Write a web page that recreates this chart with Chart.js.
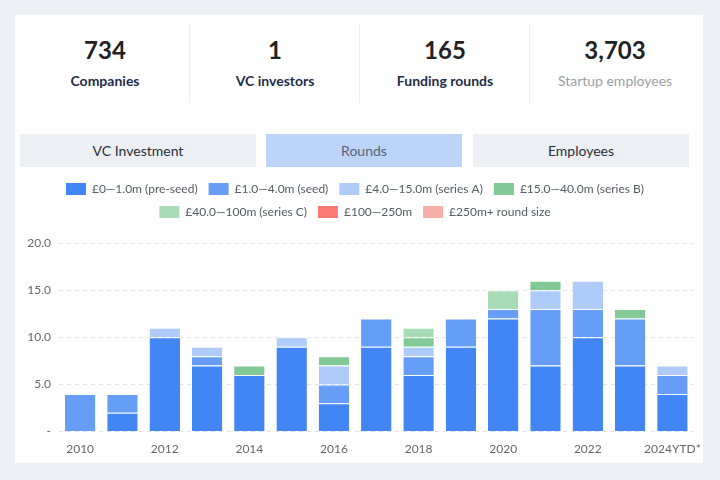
<!DOCTYPE html>
<html><head><meta charset="utf-8">
<script src="https://cdn.jsdelivr.net/npm/chart.js@4"></script>
<style>
html,body{margin:0;padding:0;background:#edf0f5;width:720px;height:480px;overflow:hidden;font-family:Lato,"Noto Sans",sans-serif;}
#card{position:absolute;left:15px;top:15px;width:688px;height:448px;background:#fff;}
.stat{position:absolute;top:8px;height:80px;width:170px;text-align:center;}
.stat .n{position:absolute;left:0;right:0;top:12px;font-size:24px;font-weight:700;color:#222;line-height:30px;}
.stat .l{position:absolute;left:0;right:0;top:48px;font-size:14px;font-weight:700;color:#1e2c4c;line-height:20px;}
.div{position:absolute;top:8px;width:1px;height:80px;background:#eceef1;}
.tab{position:absolute;top:119px;height:33px;background:#eceff4;color:#2a2f3a;font-size:14px;line-height:33px;text-align:center;}
.tab.on{background:#bcd4f8;color:#5a6272;}
#wrap{position:absolute;left:0;top:153px;width:688px;height:295px;}
</style></head><body>
<div id="card">
  <div class="stat" style="left:5px"><div class="n" id="s0"></div><div class="l" id="l0"></div></div>
  <div class="div" style="left:174px"></div>
  <div class="stat" style="left:175px"><div class="n" id="s1"></div><div class="l" id="l1"></div></div>
  <div class="div" style="left:344px"></div>
  <div class="stat" style="left:345px"><div class="n" id="s2"></div><div class="l" id="l2"></div></div>
  <div class="div" style="left:514px"></div>
  <div class="stat" style="left:515px"><div class="n" id="s3"></div><div class="l" id="l3" style="color:#9a9ea6;font-weight:400"></div></div>
  <div class="tab" style="left:5px;width:236px">VC Investment</div>
  <div class="tab on" style="left:251px;width:196px">Rounds</div>
  <div class="tab" style="left:458px;width:216px">Employees</div>
  <div id="wrap"><canvas id="c" width="688" height="295"></canvas></div>
</div>
<script>
const statValues = ["734", "1", "165", "3,703"];
const statLabels = ["Companies", "VC investors", "Funding rounds", "Startup employees"];
const years = ["2010","2011","2012","2013","2014","2015","2016","2017","2018","2019","2020","2021","2022","2023","2024YTD*"];
const seriesNames = ["£0—1.0m (pre-seed)", "£1.0—4.0m (seed)", "£4.0—15.0m (series A)", "£15.0—40.0m (series B)", "£40.0—100m (series C)", "£100—250m", "£250m+ round size"];
const preSeed = [0, 2, 10, 7, 6, 9, 3, 9, 6, 9, 12, 7, 10, 7, 4];
const seed    = [4, 2, 0, 1, 0, 0, 2, 3, 2, 3, 1, 6, 3, 5, 2];
const seriesA = [0, 0, 1, 1, 0, 1, 2, 0, 1, 0, 0, 2, 3, 0, 1];
const seriesB = [0, 0, 0, 0, 1, 0, 1, 0, 1, 0, 0, 1, 0, 1, 0];
const seriesC = [0, 0, 0, 0, 0, 0, 0, 0, 1, 0, 2, 0, 0, 0, 0];
const r100_250 = [0,0,0,0,0,0,0,0,0,0,0,0,0,0,0];
const r250plus = [0,0,0,0,0,0,0,0,0,0,0,0,0,0,0];
const yTicks = [0, 5, 10, 15, 20];

statValues.forEach((v,i)=>{document.getElementById('s'+i).textContent=v;document.getElementById('l'+i).textContent=statLabels[i];});

const colors = ["#4285f4", "#669df6", "#aecbfa", "#81c995", "#a8dab5", "#f77b72", "#f6aea9"];
const series = [preSeed, seed, seriesA, seriesB, seriesC, r100_250, r250plus];

const datasets = series.map((d,i)=>({
  label: seriesNames[i],
  data: d,
  backgroundColor: colors[i],
  borderColor: 'rgba(255,255,255,0.7)',
  borderWidth: {top:1, left:0, right:0, bottom:0},
  borderSkipped: false,
  stack: 's'
}));

const legendPad = {
  id: 'legendPad',
  beforeInit(chart){
    const orig = chart.legend.fit;
    chart.legend.fit = function(){ orig.call(this); this.height += 15; };
  }
};

new Chart(document.getElementById('c'), {
  type: 'bar',
  data: { labels: years, datasets },
  plugins: [legendPad],
  options: {
    responsive: false,
    animation: false,
    layout: { padding: { left: 0, right: 8, top: 4, bottom: 5 } },
    plugins: {
      tooltip: { enabled: false },
      legend: {
        position: 'top',
        labels: {
          boxWidth: 20, boxHeight: 12, padding: 11,
          color: '#555a63',
          font: { family: 'Lato', size: 12 },
          generateLabels(chart){
            return chart.data.datasets.map((ds,i)=>({
              text: ds.label, fillStyle: ds.backgroundColor, strokeStyle: ds.backgroundColor,
              lineWidth: 0, hidden: false, datasetIndex: i, fontColor: '#555a63'
            }));
          }
        }
      }
    },
    scales: {
      x: {
        stacked: true,
        grid: { display: false },
        border: { display: false },
        ticks: {
          color: '#666', font: { family: 'Lato', size: 12 }, autoSkip: false, maxRotation: 0, padding: 2,
          callback(v, i){ return i % 2 === 0 ? years[i] : ''; }
        }
      },
      y: {
        stacked: true,
        min: yTicks[0], max: yTicks[yTicks.length-1],
        afterBuildTicks(scale){ scale.ticks = yTicks.map(v=>({value:v})); },
        afterFit(scale){ scale.width = 44; },
        grid: { color: '#e2e2e2', drawTicks: false },
        border: { display: false, dash: [4,4] },
        ticks: {
          color: '#666', font: { family: 'Lato', size: 12 }, padding: 8,
          callback(v){ return v === 0 ? '-' : Number(v).toFixed(1); }
        }
      }
    }
  }
});
</script>
</body></html>
